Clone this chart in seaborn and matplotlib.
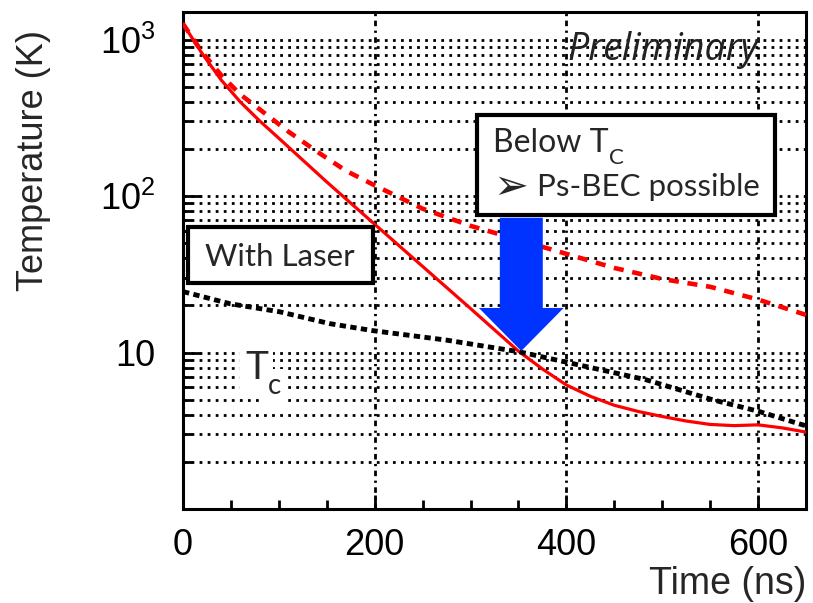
import numpy as np
import pandas as pd
import matplotlib
matplotlib.use("Agg")
import matplotlib.pyplot as plt
import seaborn as sns
from matplotlib.patches import Rectangle, FancyArrow
from matplotlib.ticker import FixedLocator, LogLocator, MultipleLocator, NullFormatter

# with laser (red solid)
t_laser = [0, 20, 40, 60, 80, 100, 150, 200, 250, 300, 350, 375, 400, 425, 450, 475,
           500, 525, 550, 575, 600, 625, 650]
T_laser = [1260, 813, 550, 398, 302, 234, 123, 66, 35.5, 19.1, 10.2, 7.85, 6.2, 5.25,
           4.6, 4.2, 3.9, 3.65, 3.47, 3.41, 3.45, 3.3, 3.1]

# without laser (red dashed)
t_nolaser = [0, 20, 40, 60, 80, 110, 140, 170, 200, 250, 300, 350, 400, 450, 500,
             550, 600, 650]
T_nolaser = [1260, 830, 590, 445, 358, 258, 192, 145, 117, 83, 64.5, 52.5, 42.7, 34.7,
             29.5, 26.3, 21.8, 17.4]

# critical temperature Tc (black dotted)
t_tc = [0, 49, 101, 153, 198, 275, 351, 414, 483, 552, 601, 643, 650]
T_tc = [24.5, 20.5, 18.2, 15.3, 13.8, 12.0, 10.1, 8.3, 6.7, 5.0, 4.2, 3.5, 3.4]

xticks = [0, 200, 400, 600]
yticks = [10, 100, 1000]
ytick_labels = ["10", "$10^2$", "$10^3$"]

sns.set_style("ticks")
plt.rcParams["font.family"] = ["Liberation Sans", "DejaVu Sans"]
plt.rcParams["mathtext.fontset"] = "custom"
plt.rcParams["mathtext.rm"] = "Liberation Sans"
plt.rcParams["mathtext.default"] = "regular"

fig = plt.figure(figsize=(8.13, 6.03), dpi=100)
ax = fig.add_axes([0.2251, 0.1559, 0.7663, 0.8242])

sns.lineplot(x=t_laser, y=T_laser, color="#ff0000", lw=2.3, ax=ax, zorder=4)
sns.lineplot(x=t_nolaser, y=T_nolaser, color="#ff0000", lw=3.3, ax=ax, zorder=4,
             linestyle=(0, (2.2, 1.9)))
sns.lineplot(x=t_tc, y=T_tc, color="black", lw=3.5, ax=ax, zorder=4,
             linestyle=(0, (1.3, 0.9)))

ax.set_yscale("log")
ax.set_xlim(0, 650)
ax.set_ylim(1, 1500)

ax.xaxis.set_major_locator(FixedLocator(xticks))
ax.xaxis.set_minor_locator(MultipleLocator(50))
ax.yaxis.set_major_locator(FixedLocator(yticks))
ax.set_yticklabels(ytick_labels)
ax.yaxis.set_minor_locator(LogLocator(base=10, subs=np.arange(2, 10)))
ax.yaxis.set_minor_formatter(NullFormatter())

ax.grid(which="both", axis="y", color="black", lw=2.0, linestyle=(0, (1, 1.9)), zorder=1)
ax.grid(which="major", axis="x", color="black", lw=2.0, linestyle=(0, (2, 1.6, 0.8, 1.6)), zorder=1)
ax.set_axisbelow(True)

for s in ax.spines.values():
    s.set_linewidth(2.2)
    s.set_color("black")

ax.tick_params(which="both", direction="in", top=False, right=False, width=2, colors="black")
ax.tick_params(axis="x", which="major", length=10, pad=14, labelsize=26)
ax.tick_params(axis="y", which="major", length=13, pad=20, labelsize=26)
ax.tick_params(which="minor", length=6.5)

ax.set_xlabel("Time (ns)", fontsize=27, loc="right")
ax.xaxis.set_label_coords(1.0, -0.115)
ax.set_ylabel("Temperature (K)", fontsize=26)
ax.yaxis.set_label_coords(-0.212, 0.702)

# boxes
box_font = ["Lato", "DejaVu Sans"]
ax.add_patch(Rectangle((0.008, 0.455), 0.297, 0.112, transform=ax.transAxes,
                       facecolor="white", edgecolor="black", lw=3, zorder=5))
ax.text(0.156, 0.507, "With Laser", transform=ax.transAxes, ha="center", va="center",
        fontsize=22.5, family=box_font, zorder=6)

ax.add_patch(Rectangle((0.472, 0.592), 0.478, 0.201, transform=ax.transAxes,
                       facecolor="white", edgecolor="black", lw=3, zorder=5))
below = ax.text(0.4976, 0.736, "Below T", transform=ax.transAxes, ha="left", va="center",
                fontsize=23, family=box_font, zorder=6)
ax.annotate("C", xy=(1.0, 0.0), xycoords=below, ha="left", va="center",
            fontsize=16, family=box_font, zorder=6)
ax.text(0.4976, 0.648, "\u27a2", transform=ax.transAxes, ha="left", va="center",
        fontsize=30, family=["DejaVu Sans"], zorder=6)
ax.text(0.568, 0.648, "Ps-BEC possible", transform=ax.transAxes, ha="left", va="center",
        fontsize=22.5, family=box_font, zorder=6)

# arrow
ax.add_patch(FancyArrow(0.543, 0.586, 0, -0.268, width=0.069, head_width=0.136,
                        head_length=0.0865, length_includes_head=True,
                        transform=ax.transAxes, color="#0033ff", lw=0, zorder=5))

# Tc label
tc = ax.text(0.0995, 0.284, "T", transform=ax.transAxes, ha="left", va="center",
             fontsize=28, family=box_font, zorder=6,
             bbox=dict(facecolor="white", edgecolor="none", pad=4))
ax.annotate("c", xy=(1.0, 0.0), xycoords=tc, ha="left", va="center",
            fontsize=20, family=box_font, zorder=6,
            bbox=dict(facecolor="white", edgecolor="none", pad=3))

ax.text(0.770, 0.924, "Preliminary", transform=ax.transAxes, ha="center", va="center",
        fontsize=27, family=["Open Sans", "DejaVu Sans"], style="italic", color="#222222", zorder=6)

fig.savefig("out.png", dpi=100)
